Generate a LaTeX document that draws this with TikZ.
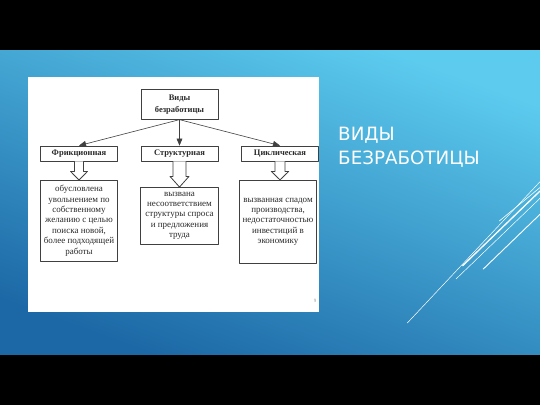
\documentclass[tikz,border=0pt]{standalone}
\usepackage{fontspec}
\setmainfont{Liberation Serif}
\newfontfamily\titlefont{DejaVu Sans}
\usetikzlibrary{arrows,calc}
\definecolor{skytop}{HTML}{5CCBEE}
\definecolor{skybot}{HTML}{1C68A6}
\definecolor{inkgray}{HTML}{2A2A2A}

\begin{document}
\begin{tikzpicture}[line cap=round,line join=round,>=triangle 45,x=1pt,y=-1pt,
  box/.style={draw=black!75,line width=0.8pt,fill=white,inner sep=0pt,align=center,text=inkgray},
  kind/.style={box,minimum width=77pt,minimum height=15pt,font=\fontsize{8.5}{10}\selectfont\bfseries},
  note/.style={box,minimum width=77pt,font=\fontsize{9}{10.4}\selectfont},
  hollow/.style={draw=black!75,line width=0.8pt,fill=white}]
\useasboundingbox (0,0) rectangle (540,405);
\fill[black] (0,0) rectangle (540,405);
\shade[top color=skytop,bottom color=skybot,shading angle=-20] (0,50) rectangle (540,354);
% slide panel
\fill[white] (27.6,77.3) rectangle (319.2,311.7);
\node[box,minimum width=77pt,minimum height=29.5pt,font=\fontsize{8.5}{12}\selectfont\bfseries] (vidy) at (179.5,104.5) {Виды\\безработицы};
\node[kind] (frik) at (79,153.5) {Фрикционная};
\node[kind] (struk) at (179.5,153.5) {Структурная};
\node[kind] (cikl) at (280,153.5) {Циклическая};
\draw[->,line width=0.6pt,color=black!75] (vidy.south) -- (frik.north);
\draw[->,line width=0.6pt,color=black!75] (vidy.south) -- (struk.north);
\draw[->,line width=0.6pt,color=black!75] (vidy.south) -- (cikl.north);
\node[note,minimum height=80.5pt] (frikT) at (79,220.7) {обусловлена\\увольнением по\\собственному\\желанию с целью\\поиска новой,\\более подходящей\\работы};
\node[note,minimum width=77.5pt,minimum height=56.7pt] (strukT) at (179.5,215.8) {вызвана\\несоответствием\\структуры спроса\\и предложения\\труда};
\node[note,minimum height=83pt] (ciklT) at (278,221.8) {вызванная спадом\\производства,\\недостаточностью\\инвестиций в\\экономику};
% hollow arrows
\draw[hollow] ($(frik.south)+(-4.5,0)$) -- ($(frik.south)+(-4.5,10)$) -- ($(frik.south)+(-8.5,10)$) -- (frik.south |- frikT.north) -- ($(frik.south)+(8.5,10)$) -- ($(frik.south)+(4.5,10)$) -- ($(frik.south)+(4.5,0)$);
\draw[hollow] ($(struk.south)+(-6.5,0)$) -- ($(struk.south)+(-6.5,15)$) -- ($(struk.south)+(-9.5,15)$) -- (struk.south |- strukT.north) -- ($(struk.south)+(9.5,15)$) -- ($(struk.south)+(6.5,15)$) -- ($(struk.south)+(6.5,0)$);
\draw[hollow] ($(cikl.south)+(-5,0)$) -- ($(cikl.south)+(-5,10)$) -- ($(cikl.south)+(-8.7,10)$) -- (cikl.south |- ciklT.north) -- ($(cikl.south)+(8.7,10)$) -- ($(cikl.south)+(5,10)$) -- ($(cikl.south)+(5,0)$);
\node[text=black!40,font=\fontsize{5}{5}\selectfont] (pnum) at (315,301) {9};
% title
\node[anchor=base west,align=left,inner sep=0pt,text=white,font=\titlefont\fontsize{18.3}{24}\selectfont] (title) at (338,164.5) {ВИДЫ\\БЕЗРАБОТИЦЫ};
% decorative strokes
\draw[white,line width=0.5pt] (407.3,323) -- (540,181.7);
\draw[white,line width=0.6pt] (499.3,221) -- (540,187.5);
\draw[white,line width=1.3pt] (462.7,265.7) -- (540,191);
\draw[white,line width=0.5pt] (456,279) -- (540,198.3);
\draw[white,line width=0.9pt] (483.3,269) -- (540,214.3);
\end{tikzpicture}
\end{document}
